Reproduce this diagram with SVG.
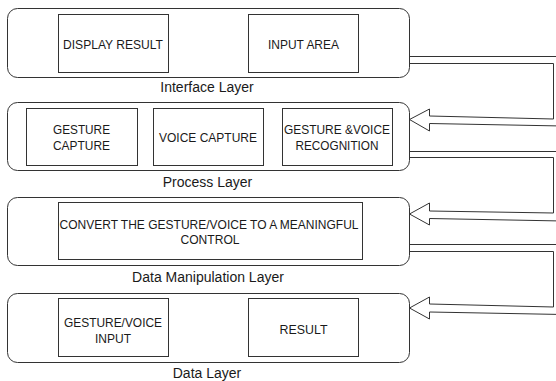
<svg xmlns="http://www.w3.org/2000/svg" width="556" height="381" viewBox="0 0 556 381">
<style>
.layer{fill:#fff;stroke:#333;stroke-width:1}
.box{fill:#fff;stroke:#333;stroke-width:1}
.t{font-family:"Liberation Sans",Arial,sans-serif;font-size:13.5px;fill:#1a1a1a;text-anchor:middle}
.lbl{font-family:"Liberation Sans",Arial,sans-serif;font-size:14px;fill:#1a1a1a;text-anchor:middle}
.arrow{fill:#fff;stroke:#333;stroke-width:1;stroke-linejoin:miter}
</style>
<rect width="556" height="381" fill="#fff"/>
<g id="connectors">
<polygon class="arrow" points="409.5,56.5 562,56.5 562,126 429.5,123.5 429.5,131 409.5,119.5 429.5,109 429.5,116 553.5,119 553.5,63.5 409.5,63.5"/>
<polygon class="arrow" points="409.5,151.5 562,151.5 562,221 429.5,218.5 429.5,225 409.5,214 429.5,203 429.5,211 553.5,213 553.5,157.5 409.5,157.5"/>
<polygon class="arrow" points="409.5,244.5 562,244.5 562,314.5 429.5,312 429.5,319 409.5,308 429.5,297 429.5,304 553.5,307 553.5,251.5 409.5,251.5"/>
</g>
<g id="interface-layer">
<rect class="layer" x="7.5" y="8.5" width="402" height="69" rx="10"/>
<text class="lbl" x="207" y="92">Interface Layer</text>
</g>
<g id="display-result">
<rect class="box" x="58.5" y="14.5" width="110" height="58"/>
<text class="t" x="113" y="48.5" textLength="100" lengthAdjust="spacingAndGlyphs">DISPLAY RESULT</text>
</g>
<g id="input-area">
<rect class="box" x="248.5" y="14.5" width="110" height="58"/>
<text class="t" x="303.5" y="48.5" textLength="71" lengthAdjust="spacingAndGlyphs">INPUT AREA</text>
</g>
<g id="process-layer">
<rect class="layer" x="7.5" y="102.5" width="402" height="68" rx="10"/>
<text class="lbl" x="207.5" y="186.5">Process Layer</text>
</g>
<g id="gesture-capture">
<rect class="box" x="26.5" y="108.5" width="111" height="57"/>
<text class="t" x="81.5" y="134" textLength="57" lengthAdjust="spacingAndGlyphs">GESTURE</text>
<text class="t" x="81.5" y="150" textLength="57" lengthAdjust="spacingAndGlyphs">CAPTURE</text>
</g>
<g id="voice-capture">
<rect class="box" x="153.5" y="108.5" width="110" height="57"/>
<text class="t" x="208" y="142" textLength="98" lengthAdjust="spacingAndGlyphs">VOICE CAPTURE</text>
</g>
<g id="gesture-voice-recognition">
<rect class="box" x="282.5" y="108.5" width="110" height="57"/>
<text class="t" x="337" y="134" textLength="106" lengthAdjust="spacingAndGlyphs">GESTURE &amp;VOICE</text>
<text class="t" x="337" y="150" textLength="83" lengthAdjust="spacingAndGlyphs">RECOGNITION</text>
</g>
<g id="data-manipulation-layer">
<rect class="layer" x="7.5" y="197.5" width="402" height="68" rx="10"/>
<text class="lbl" x="208" y="282">Data Manipulation Layer</text>
</g>
<g id="convert">
<rect class="box" x="58.5" y="202.5" width="304" height="57"/>
<text class="t" x="209" y="228.5" textLength="299" lengthAdjust="spacingAndGlyphs">CONVERT THE GESTURE/VOICE TO A MEANINGFUL</text>
<text class="t" x="210" y="244" textLength="59" lengthAdjust="spacingAndGlyphs">CONTROL</text>
</g>
<g id="data-layer">
<rect class="layer" x="7.5" y="293.5" width="402" height="69" rx="10"/>
<text class="lbl" x="207" y="377.5">Data Layer</text>
</g>
<g id="gesture-voice-input">
<rect class="box" x="58.5" y="298.5" width="110" height="58"/>
<text class="t" x="113" y="326.5" textLength="98" lengthAdjust="spacingAndGlyphs">GESTURE/VOICE</text>
<text class="t" x="113" y="342.5" textLength="36" lengthAdjust="spacingAndGlyphs">INPUT</text>
</g>
<g id="result">
<rect class="box" x="248.5" y="298.5" width="110" height="58"/>
<text class="t" x="303.5" y="333.5" textLength="48" lengthAdjust="spacingAndGlyphs">RESULT</text>
</g>
</svg>
